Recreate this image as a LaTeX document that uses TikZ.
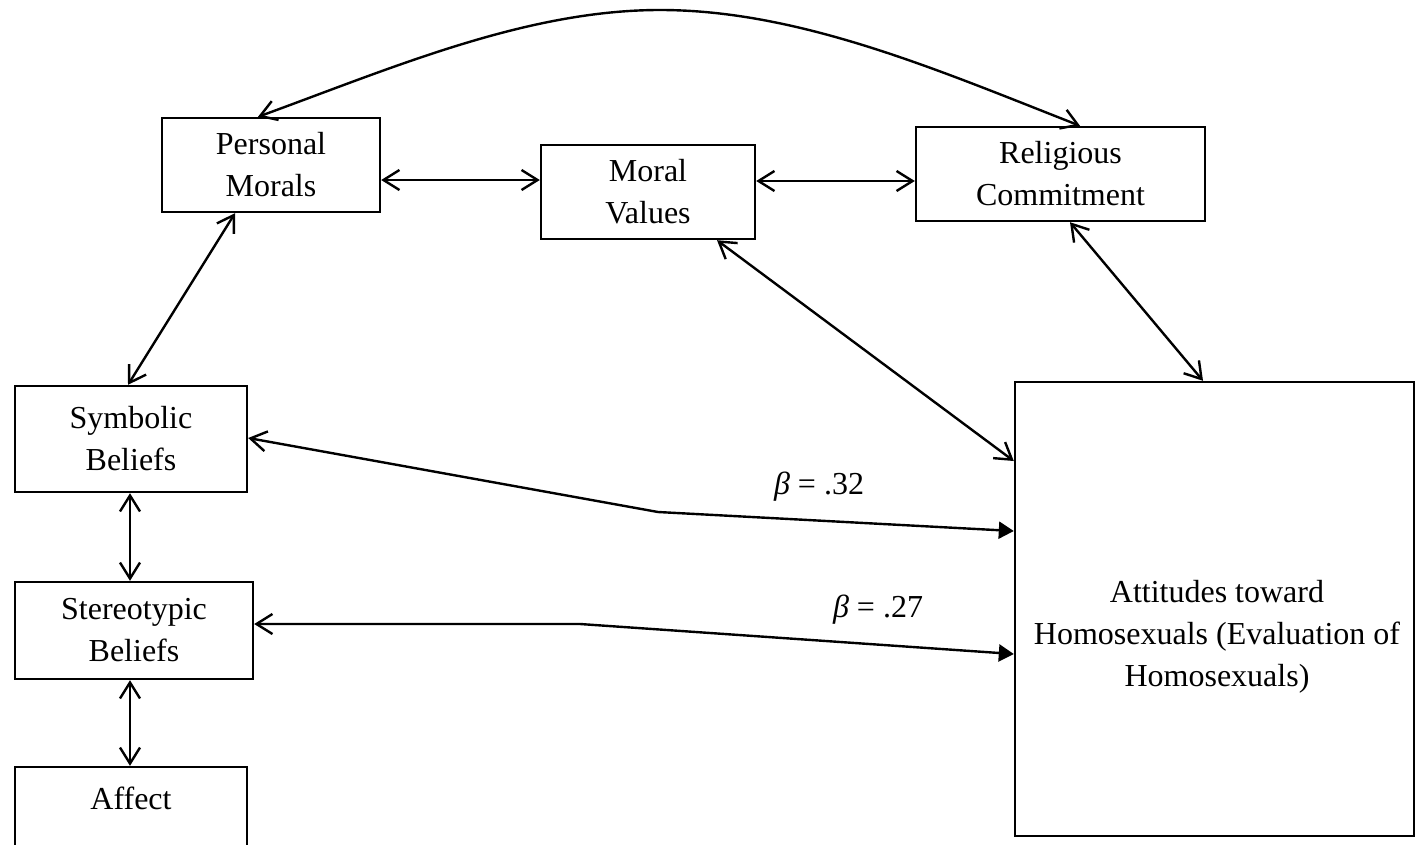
\documentclass[tikz,border=0pt]{standalone}
\usepackage{fontspec}
\setmainfont{Liberation Serif}
\usetikzlibrary{arrows.meta}
\begin{document}
\begin{tikzpicture}[x=1pt, y=-1pt,
  font=\fontsize{32}{42}\selectfont,
  box/.style={draw, line width=2.4pt, rectangle, inner sep=0pt, align=center},
  txt/.style={inner sep=0pt, align=center},
  link/.style={line width=2.4pt, {Straight Barb[length=16pt, width=20pt]}-{Straight Barb[length=16pt, width=20pt]}},
  path/.style={line width=2.4pt, {Straight Barb[length=16pt, width=20pt]}-{Triangle[length=15pt, width=17pt]}},
  coef/.style={inner sep=0pt}]
  \useasboundingbox (0,0) rectangle (1416,844);

  % boxes
  \node[box, minimum width=218, minimum height=94] (pm) at (271,165) {Personal\\Morals};
  \node[box, minimum width=214, minimum height=94] (mv) at (648,192) {Moral\\Values};
  \node[box, minimum width=289, minimum height=94] (rc) at (1060.5,174) {Religious\\Commitment};
  \node[box, minimum width=232, minimum height=106] (sb) at (131,439) {Symbolic\\Beliefs};
  \node[box, minimum width=238, minimum height=97] (st) at (134,630.5) {Stereotypic\\Beliefs};
  \node[box, minimum width=232, minimum height=154] (af) at (131,844) {};
  \node[txt] (aftext) at (131,798) {Affect};
  \node[box, minimum width=399, minimum height=454] (att) at (1214.5,609) {};
  \node[txt] (atttext) at (1217,637) {Attitudes toward\\Homosexuals (Evaluation of\\Homosexuals)};

  % arc over the top row
  \draw[link] (258,0 |- pm.north) .. controls (392,68) and (526,10) .. (660,10)
                                  .. controls (800,10) and (940,71) .. (1080,0 |- rc.north);

  % top row
  \draw[link] (pm.east |- 0,180) -- (mv.west |- 0,180);
  \draw[link] (mv.east |- 0,181) -- (rc.west |- 0,181);

  % diagonal links
  \draw[link] (235,0 |- pm.south) -- (128,0 |- sb.north);
  \draw[link] (717,0 |- mv.south) -- (att.west |- 0,461);
  \draw[link] (1070,0 |- rc.south) -- (1203,0 |- att.north);

  % left column
  \draw[link] (130,0 |- sb.south) -- (130,0 |- st.north);
  \draw[link] (130,0 |- st.south) -- (130,0 |- af.north);

  % paths into attitudes
  \coordinate (bend1) at (658,512);
  \coordinate (bend2) at (580,624);
  \draw[path] (sb.east |- 0,438) -- (bend1) -- (att.west |- 0,531);
  \draw[path] (st.east |- 0,624) -- (bend2) -- (att.west |- 0,654);

  \node[coef] (b1) at (819,487) {\textit{β} = .32};
  \node[coef] (b2) at (878,610) {\textit{β} = .27};
\end{tikzpicture}
\end{document}
